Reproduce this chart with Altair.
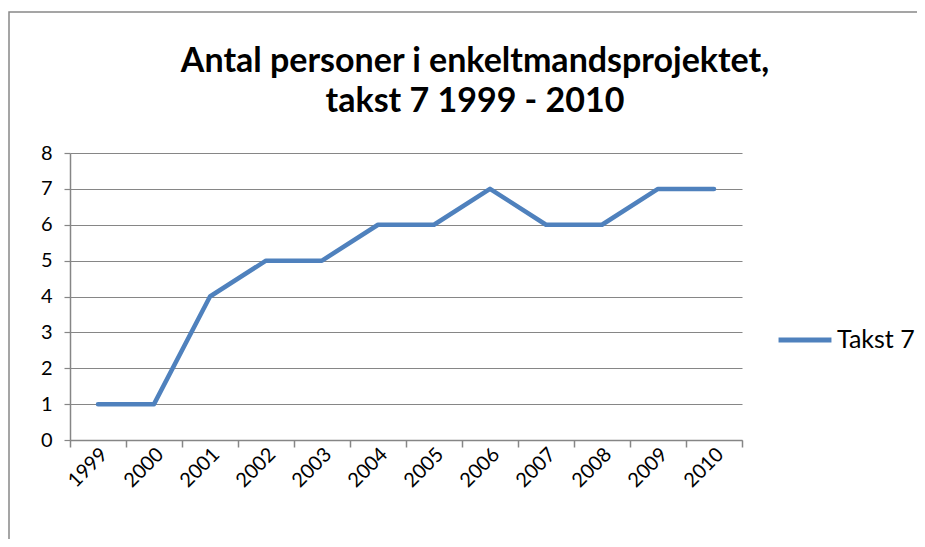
import altair as alt
import pandas as pd

years = ["1999", "2000", "2001", "2002", "2003", "2004", "2005", "2006", "2007", "2008", "2009", "2010"]
values = [1, 1, 4, 5, 5, 6, 6, 7, 6, 6, 7, 7]
series = "Takst 7"
title_lines = ["Antal personer i enkeltmandsprojektet,", "takst 7 1999 - 2010"]

df = pd.DataFrame({"year": years, "value": values, "series": [series] * len(years)})

W, H = 672, 287
FONT = "Lato"

line = alt.Chart(df).mark_line(strokeWidth=4.5, strokeCap="round", strokeJoin="round").encode(
    x=alt.X("year:N", sort=years, title=None,
            scale=alt.Scale(paddingInner=0, paddingOuter=0),
            axis=alt.Axis(labelAngle=-45, labelAlign="right", labelBaseline="middle",
                          tickBand="extent", grid=False, domainColor="#868686",
                          tickColor="#868686", tickSize=7, domainWidth=1.5, tickWidth=1.5,
                          labelFontSize=20, labelColor="#000000", labelFont=FONT,
                          labelPadding=4, labelOffset=6)),
    y=alt.Y("value:Q", title=None,
            scale=alt.Scale(domain=[0, 8], nice=False),
            axis=alt.Axis(values=list(range(0, 9)), grid=True, gridColor="#868686",
                          gridWidth=1.2, domainColor="#868686", domainWidth=1.5,
                          tickColor="#868686", tickSize=6, tickWidth=1.2,
                          labelFontSize=20, labelColor="#000000", labelFont=FONT,
                          labelPadding=12)),
    color=alt.Color("series:N", scale=alt.Scale(range=["#4F81BD"]),
                    legend=alt.Legend(title=None, orient="none", legendX=706, legendY=158,
                                      symbolType="stroke", symbolSize=2800, symbolStrokeWidth=5,
                                      labelFontSize=25, labelFont=FONT, labelColor="#000000",
                                      labelOffset=3)),
)

one = pd.DataFrame({"a": [0]})

border = alt.Chart(one).mark_rect(
    fill=None, stroke="#888888", strokeWidth=1.5
).encode(x=alt.value(-61), x2=alt.value(W + 300), y=alt.value(-141), y2=alt.value(H + 300))

title_style = dict(font=FONT, fontSize=34, fontWeight="bold", color="#000000",
                   align="center", baseline="alphabetic")
title1 = alt.Chart(one).mark_text(text=title_lines[0], **title_style).encode(
    x=alt.value(405), y=alt.value(-81))
title2 = alt.Chart(one).mark_text(text=title_lines[1], **title_style).encode(
    x=alt.value(405), y=alt.value(-41))

chart = alt.layer(border, title1, title2, line).properties(
    width=W, height=H,
    padding={"left": 62, "top": 145, "right": 175, "bottom": 99},
    autosize=alt.AutoSizeParams(type="none"),
).configure_view(stroke=None)

chart.save("out.html", embed_options={"renderer": "svg", "actions": False})
